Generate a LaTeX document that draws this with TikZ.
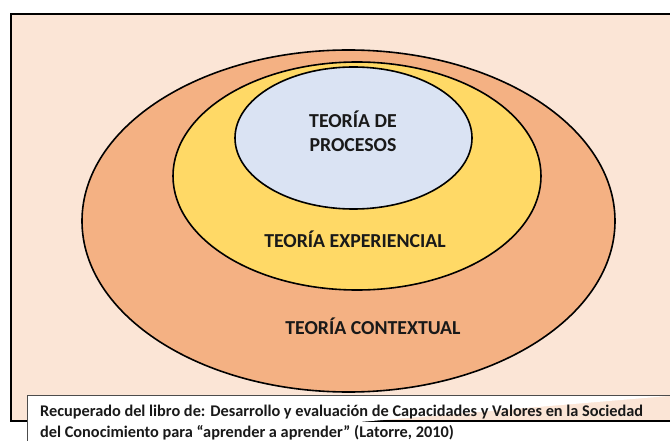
\documentclass[tikz,border=0pt]{standalone}
\usepackage{fontspec}
\setmainfont{Carlito}
\definecolor{bgpeach}{HTML}{FBE5D6}
\definecolor{ctxorange}{HTML}{F4B183}
\definecolor{expyellow}{HTML}{FFD966}
\definecolor{procblue}{HTML}{DAE3F3}
\tikzset{
  ring/.style={draw=black, line width=1.6pt},
  lbl/.style={font=\bfseries\fontsize{19.8}{24}\selectfont, text=black!90, align=center, inner sep=0pt},
  captiontext/.style={font=\bfseries\fontsize{16.3}{21}\selectfont, text=black!90, align=left, anchor=base west, inner sep=0pt}
}
\begin{document}
\begin{tikzpicture}[x=1pt,y=-1pt]
\useasboundingbox (0,0) rectangle (670,441);
\fill[white] (0,0) rectangle (670,441);
% frame
\draw[fill=bgpeach, line width=1.6pt] (11,421) -- (11,14) -- (680,14) -- (680,421) -- cycle;
% ellipses
\draw[ring, fill=ctxorange] (348.5,221) ellipse [x radius=266.5, y radius=171];
\draw[ring, fill=expyellow] (357,176) ellipse [x radius=184, y radius=114];
\draw[ring, fill=procblue] (353.5,138) ellipse [x radius=118.5, y radius=71];
% labels
\node[lbl] (proc) at (353,131) {TEORÍA DE\\PROCESOS};
\node[lbl] (exp) at (355,239) {TEORÍA EXPERIENCIAL};
\node[lbl] (ctx) at (373,326) {TEORÍA CONTEXTUAL};
% caption box
\draw[fill=white, draw=black!70, line width=0.6pt] (680,395) -- (27,395) -- (27,450);
\node[captiontext] (caption) at (40,437) {Recuperado del libro de: Desarrollo y evaluación de Capacidades y Valores en la Sociedad\\del Conocimiento para “aprender a aprender” (Latorre, 2010)};
\end{tikzpicture}
\end{document}
